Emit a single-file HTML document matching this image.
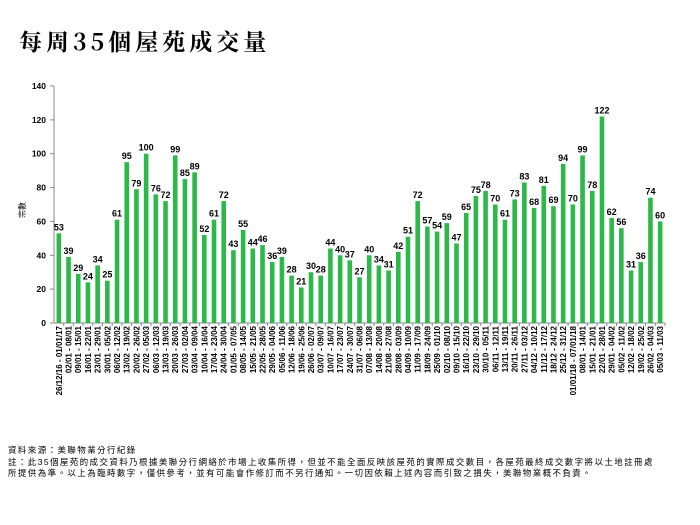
<!DOCTYPE html>
<html><head><meta charset="utf-8"><style>
html,body{margin:0;padding:0;background:#fff;width:700px;height:525px;overflow:hidden}
.t{position:absolute;left:19px;top:24px;font:bold 23px "Noto Serif CJK SC","Noto Sans CJK TC",serif;letter-spacing:4px;color:#000}
.n{position:absolute;left:8px;top:445px;font:8.5px "Liberation Sans","Noto Sans CJK TC",sans-serif;line-height:11.5px;color:#000;white-space:nowrap;letter-spacing:1.4px}
</style></head><body>
<div class="t">每周35個屋苑成交量</div>
<svg id="s" width="700" height="525" style="position:absolute;left:0;top:0"></svg>
<div class="n">資料來源：美聯物業分行紀錄<br>註：此35個屋苑的成交資料乃根據美聯分行網絡於市場上收集所得，但並不能全面反映該屋苑的實際成交數目，各屋苑最終成交數字將以土地註冊處<br>所提供為準。以上為臨時數字，僅供參考，並有可能會作修訂而不另行通知。一切因依賴上述內容而引致之損失，美聯物業概不負責。</div>
<script>
var v=[53,39,29,24,34,25,61,95,79,100,76,72,99,85,89,52,61,72,43,55,44,46,36,39,28,21,30,28,44,40,37,27,40,34,31,42,51,72,57,54,59,47,65,75,78,70,61,73,83,68,81,69,94,70,99,78,122,62,56,31,36,74,60];
var s='',x0=54,y0=323,sc=(323-86)/140,w=(665-54)/63;
var F='font-family="Liberation Sans,sans-serif"';
s+='<line x1="'+x0+'" y1="86" x2="'+x0+'" y2="'+y0+'" stroke="#888"/><line x1="'+x0+'" y1="'+y0+'" x2="665" y2="'+y0+'" stroke="#888"/>';
for(var k=0;k<=7;k++){var y=y0-k*20*sc;s+='<line x1="50" x2="'+x0+'" y1="'+y+'" y2="'+y+'" stroke="#888"/><text x="46" y="'+(y+3)+'" text-anchor="end" font-size="8.5" font-weight="bold" '+F+'>'+(k*20)+'</text>';}
s+='<text transform="translate(25,210) rotate(-90)" text-anchor="middle" font-size="8" font-family="Noto Sans CJK TC,sans-serif">宗數</text>';
var d=new Date(2016,11,26);function p(n){return (n<10?'0':'')+n}
for(var i=0;i<v.length;i++){
 var cx=x0+w*(i+0.5),h=v[i]*sc;
 s+='<rect x="'+(cx-2.3)+'" y="'+(y0-h)+'" width="4.6" height="'+h+'" fill="#2db84a"/>';
 s+='<line x1="'+(x0+w*(i+1))+'" x2="'+(x0+w*(i+1))+'" y1="'+y0+'" y2="'+(y0+3)+'" stroke="#888"/>';
 s+='<text x="'+cx+'" y="'+(y0-h-3)+'" text-anchor="middle" font-size="9" font-weight="bold" '+F+'>'+v[i]+'</text>';
 var e=new Date(d.getTime()+6*864e5),l;
 if(i==0)l='26/12/16 - 01/01/17';else if(d.getFullYear()==2018&&d.getMonth()==0&&d.getDate()==1)l='01/01/18 - 07/01/18';
 else l=p(d.getDate())+'/'+p(d.getMonth()+1)+' - '+p(e.getDate())+'/'+p(e.getMonth()+1);
 s+='<text transform="translate('+(cx+3)+',326) rotate(-90)" text-anchor="end" font-size="8" font-weight="bold" '+F+'>'+l+'</text>';
 d=new Date(d.getTime()+7*864e5);
}
document.getElementById('s').innerHTML=s;
</script>
</body></html>
